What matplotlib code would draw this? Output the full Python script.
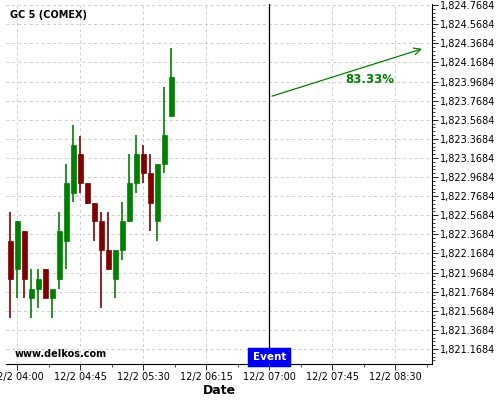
import matplotlib
matplotlib.use("Agg")
import matplotlib.pyplot as plt
import matplotlib.dates as mdates
import matplotlib.ticker as mticker
from datetime import datetime, timedelta

# ---- data ----
start = datetime(2023, 12, 2, 3, 55)
times = [start + timedelta(minutes=5 * i) for i in range(24)]
opens = [1822.299, 1822.009, 1822.404, 1821.706, 1821.800, 1822.006, 1821.706, 1821.905,
         1822.302, 1822.802, 1823.210, 1822.907, 1822.697, 1822.509, 1822.205, 1821.905,
         1822.205, 1822.509, 1822.907, 1823.210, 1823.014, 1822.509, 1823.109, 1823.608]
closes = [1821.905, 1822.509, 1821.905, 1821.797, 1821.901, 1821.706, 1821.797, 1822.404,
          1822.907, 1823.304, 1822.907, 1822.697, 1822.512, 1822.208, 1822.006, 1822.205,
          1822.509, 1822.907, 1823.210, 1823.014, 1822.697, 1823.106, 1823.409, 1824.017]
highs = [1822.600, 1822.509, 1822.404, 1822.006, 1822.006, 1822.006, 1821.797, 1822.600,
         1823.102, 1823.511, 1823.402, 1822.907, 1822.697, 1822.600, 1822.600, 1822.205,
         1822.704, 1823.207, 1823.406, 1823.301, 1823.210, 1823.106, 1823.909, 1824.317]
lows = [1821.490, 1821.699, 1821.699, 1821.490, 1821.595, 1821.699, 1821.490, 1821.797,
        1822.006, 1822.704, 1822.802, 1822.687, 1822.299, 1821.595, 1821.999, 1821.699,
        1822.100, 1822.500, 1822.802, 1822.907, 1822.404, 1822.299, 1823.008, 1823.600]

event_time = datetime(2023, 12, 2, 7, 0)
arrow_start = (datetime(2023, 12, 2, 7, 0), 1823.807)
arrow_end = (datetime(2023, 12, 2, 8, 51), 1824.320)
arrow_label = "83.33%"
title = "GC 5 (COMEX)"
watermark = "www.delkos.com"

ytick_vals = [1821.1684 + 0.2 * i for i in range(19)]
xtick_times = [datetime(2023, 12, 2, 4, 0) + timedelta(minutes=45 * i) for i in range(7)]

# ---- figure ----
fig = plt.figure(figsize=(5, 4), dpi=100)
ax = fig.add_axes([0.012, 0.09, 0.852, 0.90])

width = 3.6 / (24 * 60)
for t, o, c, h, l in zip(times, opens, closes, highs, lows):
    x = mdates.date2num(t)
    col = "#008000" if c >= o else "#800000"
    ax.vlines(x, l, h, color=col, linewidth=1.2, zorder=3)
    ax.bar(x, abs(c - o), bottom=min(o, c), width=width, color=col, edgecolor=col,
           linewidth=0.5, zorder=4)

ex = mdates.date2num(event_time)
ax.axvline(ex, color="black", linewidth=0.9, zorder=2)

ax.annotate("", xy=(mdates.date2num(arrow_end[0]), arrow_end[1]),
            xytext=(mdates.date2num(arrow_start[0]), arrow_start[1]),
            arrowprops=dict(arrowstyle="->", color="#008000", lw=0.9,
                            mutation_scale=12), zorder=5)
ax.text(0.855, 0.789, arrow_label, transform=ax.transAxes, color="#008000",
        fontsize=8.5, fontweight="bold", ha="center", va="center")

fig.text(10 / 500, 1 - 15 / 400, title, fontsize=7, fontweight="bold", ha="left", va="center")
fig.text(15 / 500, 1 - 354 / 400, watermark, fontsize=7, fontweight="bold",
         ha="left", va="center")

ax.text(ex, 1821.035, "Event", color="white", fontsize=7.5, fontweight="bold",
        ha="center", va="bottom", zorder=6,
        bbox=dict(boxstyle="square,pad=0.3", facecolor="#0000ee", edgecolor="#0000ee",
                  linewidth=2.5))

ax.set_xlim(mdates.date2num(datetime(2023, 12, 2, 3, 51, 56)),
            mdates.date2num(datetime(2023, 12, 2, 8, 56, 12)))
ax.set_ylim(1821.011, 1824.781)

ax.set_xticks([mdates.date2num(t) for t in xtick_times])
ax.set_xticklabels([t.strftime("12/2 %H:%M") for t in xtick_times], fontsize=7)
ax.xaxis.set_minor_locator(mticker.AutoMinorLocator(2))
ax.set_yticks(ytick_vals)
ax.set_yticklabels([f"{v:,.4f}" for v in ytick_vals], fontsize=7)
ax.yaxis.set_minor_locator(mticker.AutoMinorLocator(5))
ax.yaxis.tick_right()
ax.yaxis.set_label_position("right")
ax.tick_params(axis="y", which="major", length=4, width=0.6, pad=2)
ax.tick_params(axis="y", which="minor", length=2, width=0.5)
ax.tick_params(axis="x", which="major", length=4, width=0.6, pad=2)
ax.tick_params(axis="x", which="minor", length=2, width=0.5)

ax.grid(True, which="major", color="#cccccc", linestyle=(0, (3, 3)), linewidth=0.7)
for s in ["left", "top"]:
    ax.spines[s].set_visible(False)
for s in ["right", "bottom"]:
    ax.spines[s].set_linewidth(0.8)

ax.set_xlabel("Date", fontsize=9, fontweight="bold", labelpad=1)

fig.savefig("out.png", dpi=100)
